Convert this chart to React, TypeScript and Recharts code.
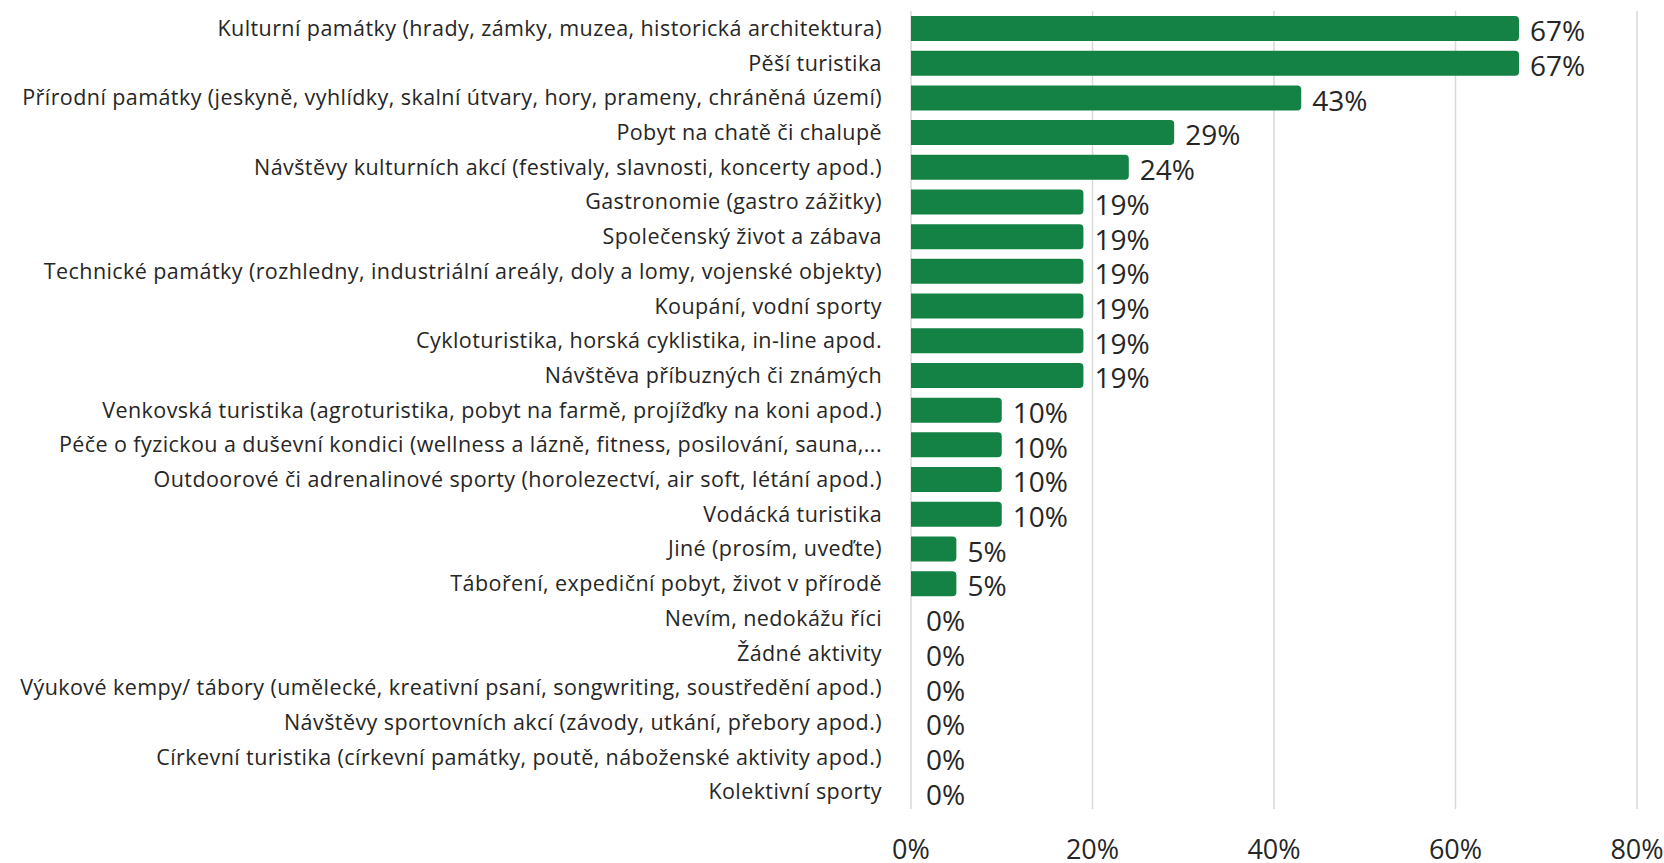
import { ComposedChart, Bar, Line, XAxis, YAxis, CartesianGrid, LabelList } from 'recharts'

const categories = [
  'Kulturní památky (hrady, zámky, muzea, historická architektura)',
  'Pěší turistika',
  'Přírodní památky (jeskyně, vyhlídky, skalní útvary, hory, prameny, chráněná území)',
  'Pobyt na chatě či chalupě',
  'Návštěvy kulturních akcí (festivaly, slavnosti, koncerty apod.)',
  'Gastronomie (gastro zážitky)',
  'Společenský život a zábava',
  'Technické památky (rozhledny, industriální areály, doly a lomy, vojenské objekty)',
  'Koupání, vodní sporty',
  'Cykloturistika, horská cyklistika, in-line apod.',
  'Návštěva příbuzných či známých',
  'Venkovská turistika (agroturistika, pobyt na farmě, projížďky na koni apod.)',
  'Péče o fyzickou a duševní kondici (wellness a lázně, fitness, posilování, sauna,...',
  'Outdoorové či adrenalinové sporty (horolezectví, air soft, létání apod.)',
  'Vodácká turistika',
  'Jiné (prosím, uveďte)',
  'Táboření, expediční pobyt, život v přírodě',
  'Nevím, nedokážu říci',
  'Žádné aktivity',
  'Výukové kempy/ tábory (umělecké, kreativní psaní, songwriting, soustředění apod.)',
  'Návštěvy sportovních akcí (závody, utkání, přebory apod.)',
  'Církevní turistika (církevní památky, poutě, náboženské aktivity apod.)',
  'Kolektivní sporty',
]

const shares = [67, 67, 43, 29, 24, 19, 19, 19, 19, 19, 19, 10, 10, 10, 10, 5, 5, 0, 0, 0, 0, 0, 0]

const xTicks = [0, 20, 40, 60, 80]

const data = categories.map((name, i) => ({ name, value: shares[i] }))

const FONT = '"Open Sans", sans-serif'
const TEXT = '#262626'
const GREEN = '#138244'

// labels sit on an invisible line so that the 0% rows get one too
const ValueLabel = (props: any) => {
  const { x, y, value } = props
  const gap = value > 0 ? 11 : 15
  return (
    <text x={x + gap} y={y + 13} fill={TEXT} fontSize={28} fontFamily={FONT}>
      {value}%
    </text>
  )
}

export default function App() {
  return (
    <div style={{ position: 'absolute', left: 0, top: 0, background: '#fff' }}>
      <ComposedChart
        width={1664}
        height={863}
        layout="vertical"
        data={data}
        margin={{ top: 11, right: 27, left: 0, bottom: 0 }}
        barCategoryGap={5}
      >
        <CartesianGrid horizontal={false} stroke="#d9d9d9" strokeWidth={1.5} />
        <XAxis
          type="number"
          domain={[0, 80]}
          ticks={xTicks}
          tickFormatter={(v) => `${v}%`}
          axisLine={false}
          tickLine={false}
          tickMargin={25}
          height={54}
          tick={{ fontSize: 27, fill: TEXT, fontFamily: FONT }}
        />
        <YAxis
          type="category"
          dataKey="name"
          width={911}
          axisLine={false}
          tickLine={false}
          tickMargin={23}
          interval={0}
          tick={{ fontSize: 21.5, fill: TEXT, fontFamily: FONT, letterSpacing: 0.42 }}
        />
        <Bar dataKey="value" fill={GREEN} radius={[0, 4, 4, 0]} isAnimationActive={false} />
        <Line dataKey="value" stroke="none" dot={false} activeDot={false} isAnimationActive={false}>
          <LabelList dataKey="value" content={<ValueLabel />} />
        </Line>
      </ComposedChart>
    </div>
  )
}
